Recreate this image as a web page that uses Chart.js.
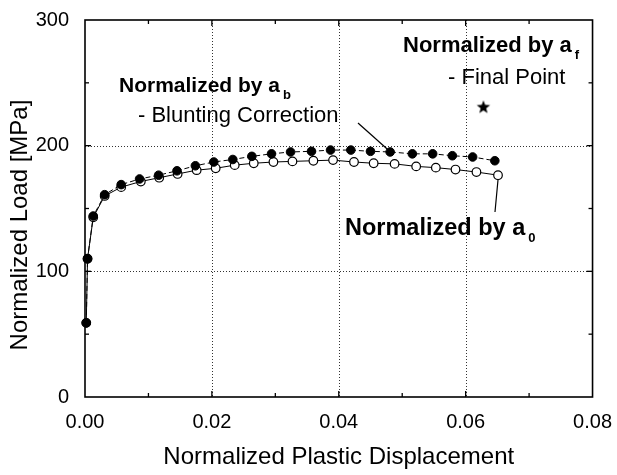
<!DOCTYPE html>
<html>
<head>
<meta charset="utf-8">
<script src="https://cdn.jsdelivr.net/npm/chart.js@4.4.1/dist/chart.umd.min.js"></script>
<style>
	html, body { margin: 0; padding: 0; background: #fff; }
</style>
</head>
<body>
<canvas id="loadChart" width="617" height="475"></canvas>
<script>
// Normalized by a_b (blunting correction) - filled circles
const bluntX = [0.0002, 0.0004, 0.0013, 0.0031, 0.0057, 0.0086, 0.0116, 0.0145, 0.0174, 0.0203, 0.0233, 0.0263, 0.0294, 0.0324, 0.0357, 0.0387, 0.0419, 0.0450, 0.0481, 0.0516, 0.0548, 0.0579, 0.0611, 0.0646];
const bluntY = [59, 110, 144, 161, 169, 173.5, 176.5, 180, 184, 187, 189, 191.5, 193.5, 195, 195.5, 196.5, 196.5, 195.5, 195, 193.5, 193.5, 192, 191, 188];

// Normalized by a_0 - open circles
const initX = [0.0002, 0.0004, 0.0013, 0.0031, 0.0057, 0.0088, 0.0117, 0.0146, 0.0176, 0.0206, 0.0236, 0.0266, 0.0297, 0.0327, 0.0360, 0.0391, 0.0424, 0.0455, 0.0488, 0.0522, 0.0553, 0.0584, 0.0617, 0.0651];
const initY = [59, 110, 143, 160, 167, 171.5, 174.5, 177.5, 180.5, 182, 184.5, 186, 187, 187.5, 188, 188.5, 187, 186, 185.5, 183.5, 182.5, 181, 179, 176.5];

// Normalized by a_f - final point (star)
const finalX = [0.0628];
const finalY = [230.5];

const xTicks = [0, 0.02, 0.04, 0.06, 0.08];
const yTicks = [0, 100, 200, 300];

const FONT = '"Liberation Sans", Arial, sans-serif';

function toPoints(xs, ys) {
	return xs.map((v, i) => ({ x: v, y: ys[i] }));
}

// filled star for the final point
function makeStar(r) {
	const c = document.createElement('canvas');
	c.width = c.height = r * 2 + 2;
	const g = c.getContext('2d');
	g.beginPath();
	for (let i = 0; i < 10; i++) {
		const rr = i % 2 === 0 ? r : r * 0.42;
		const a = -Math.PI / 2 + i * Math.PI / 5;
		const px = r + 1 + rr * Math.cos(a);
		const py = r + 1 + rr * Math.sin(a);
		if (i === 0) g.moveTo(px, py); else g.lineTo(px, py);
	}
	g.closePath();
	g.fillStyle = '#000';
	g.fill();
	return c;
}

function line(ctx, x1, y1, x2, y2) {
	ctx.beginPath();
	ctx.moveTo(x1, y1);
	ctx.lineTo(x2, y2);
	ctx.stroke();
}

function subLabel(ctx, text, sub, x, y, size) {
	ctx.font = 'bold ' + size + 'px ' + FONT;
	ctx.fillText(text, x, y);
	const w = ctx.measureText(text).width;
	ctx.font = 'bold 13px ' + FONT;
	ctx.fillText(sub, x + w + 3, y + 7);
}

const framePlugin = {
	id: 'frame',
	beforeDatasetsDraw(chart) {
		const { ctx, chartArea: a, scales: { x, y } } = chart;
		ctx.save();
		ctx.strokeStyle = '#333';
		ctx.lineWidth = 1;
		ctx.setLineDash([1, 2]);
		xTicks.slice(1, -1).forEach((v) => {
			const p = Math.round(x.getPixelForValue(v)) + 0.5;
			line(ctx, p, a.top, p, a.bottom);
		});
		yTicks.slice(1, -1).forEach((v) => {
			const p = Math.round(y.getPixelForValue(v)) + 0.5;
			line(ctx, a.left, p, a.right, p);
		});
		ctx.restore();
	},
	afterDraw(chart) {
		const { ctx, chartArea: a, scales: { x, y } } = chart;
		ctx.save();
		ctx.strokeStyle = '#000';
		ctx.fillStyle = '#000';

		// box
		ctx.lineWidth = 1.6;
		ctx.strokeRect(a.left, a.top, a.right - a.left, a.bottom - a.top);

		// inward ticks, minor every 0.01 / 50
		ctx.lineWidth = 1.3;
		for (let v = 0.01; v < 0.08; v += 0.01) {
			const p = x.getPixelForValue(v);
			const len = Math.round(v * 100) % 2 === 0 ? 6 : 4;
			line(ctx, p, a.bottom, p, a.bottom - len);
			line(ctx, p, a.top, p, a.top + len);
		}
		for (let v = 50; v < 300; v += 50) {
			const p = y.getPixelForValue(v);
			const len = v % 100 === 0 ? 6 : 4;
			line(ctx, a.left, p, a.left + len, p);
			line(ctx, a.right, p, a.right - len, p);
		}

		// y axis title
		ctx.save();
		ctx.translate(20, 225);
		ctx.rotate(-Math.PI / 2);
		ctx.font = '24px ' + FONT;
		ctx.textAlign = 'center';
		ctx.textBaseline = 'middle';
		ctx.fillText('Normalized Load [MPa]', 0, 0);
		ctx.restore();

		// annotations
		ctx.textAlign = 'left';
		ctx.textBaseline = 'alphabetic';
		subLabel(ctx, 'Normalized by a', 'b', 119, 92, 21);
		ctx.font = '22px ' + FONT;
		ctx.fillText('- Blunting Correction', 138, 122);

		subLabel(ctx, 'Normalized by a', 'f', 403, 52, 22);
		ctx.font = '22px ' + FONT;
		ctx.fillText('- Final Point', 448, 84);

		subLabel(ctx, 'Normalized by a', '0', 345, 235, 23.5);

		// leader lines to the curves
		ctx.lineWidth = 1.2;
		const bx = x.getPixelForValue(bluntX[18]);
		const by = y.getPixelForValue(bluntY[18]);
		line(ctx, 358, 123, bx - 3, by - 3);
		const ix = x.getPixelForValue(initX[initX.length - 1]);
		const iy = y.getPixelForValue(initY[initY.length - 1]);
		line(ctx, ix, iy + 4.5, 495, 212);

		ctx.restore();
	}
};

new Chart(document.getElementById('loadChart'), {
	type: 'scatter',
	data: {
		datasets: [
			{
				label: 'Normalized by ab',
				data: toPoints(bluntX, bluntY),
				showLine: true,
				borderColor: '#000',
				borderWidth: 1,
				borderDash: [5, 3],
				pointRadius: 4.3,
				pointBackgroundColor: '#000',
				pointBorderColor: '#000',
				clip: false
			},
			{
				label: 'Normalized by a0',
				data: toPoints(initX, initY),
				showLine: true,
				borderColor: '#000',
				borderWidth: 1,
				pointRadius: 4.3,
				pointBorderWidth: 1.2,
				pointBackgroundColor: '#fff',
				pointBorderColor: '#000',
				clip: false
			},
			{
				label: 'Normalized by af',
				data: toPoints(finalX, finalY),
				pointStyle: makeStar(7),
				pointRadius: 7
			}
		]
	},
	options: {
		responsive: false,
		animation: false,
		devicePixelRatio: 1,
		layout: { padding: { top: 20, right: 23, left: 0, bottom: 0 } },
		plugins: { legend: { display: false }, tooltip: { enabled: false } },
		scales: {
			x: {
				type: 'linear',
				min: 0,
				max: 0.08,
				afterBuildTicks: (s) => { s.ticks = xTicks.map((v) => ({ value: v })); },
				afterFit: (s) => { s.height = 78; },
				grid: { display: false },
				border: { display: false },
				ticks: {
					color: '#000',
					padding: 5,
					maxRotation: 0,
					font: { family: FONT, size: 20 },
					callback: (v) => v.toFixed(2)
				},
				title: {
					display: true,
					text: 'Normalized Plastic Displacement',
					color: '#000',
					font: { family: FONT, size: 24 },
					padding: { top: 0, bottom: 3 }
				}
			},
			y: {
				type: 'linear',
				min: 0,
				max: 300,
				afterBuildTicks: (s) => { s.ticks = yTicks.map((v) => ({ value: v })); },
				afterFit: (s) => { s.width = 85; },
				grid: { display: false },
				border: { display: false },
				ticks: {
					color: '#000',
					padding: 8,
					font: { family: FONT, size: 20 }
				}
			}
		}
	},
	plugins: [framePlugin]
});
</script>
</body>
</html>
